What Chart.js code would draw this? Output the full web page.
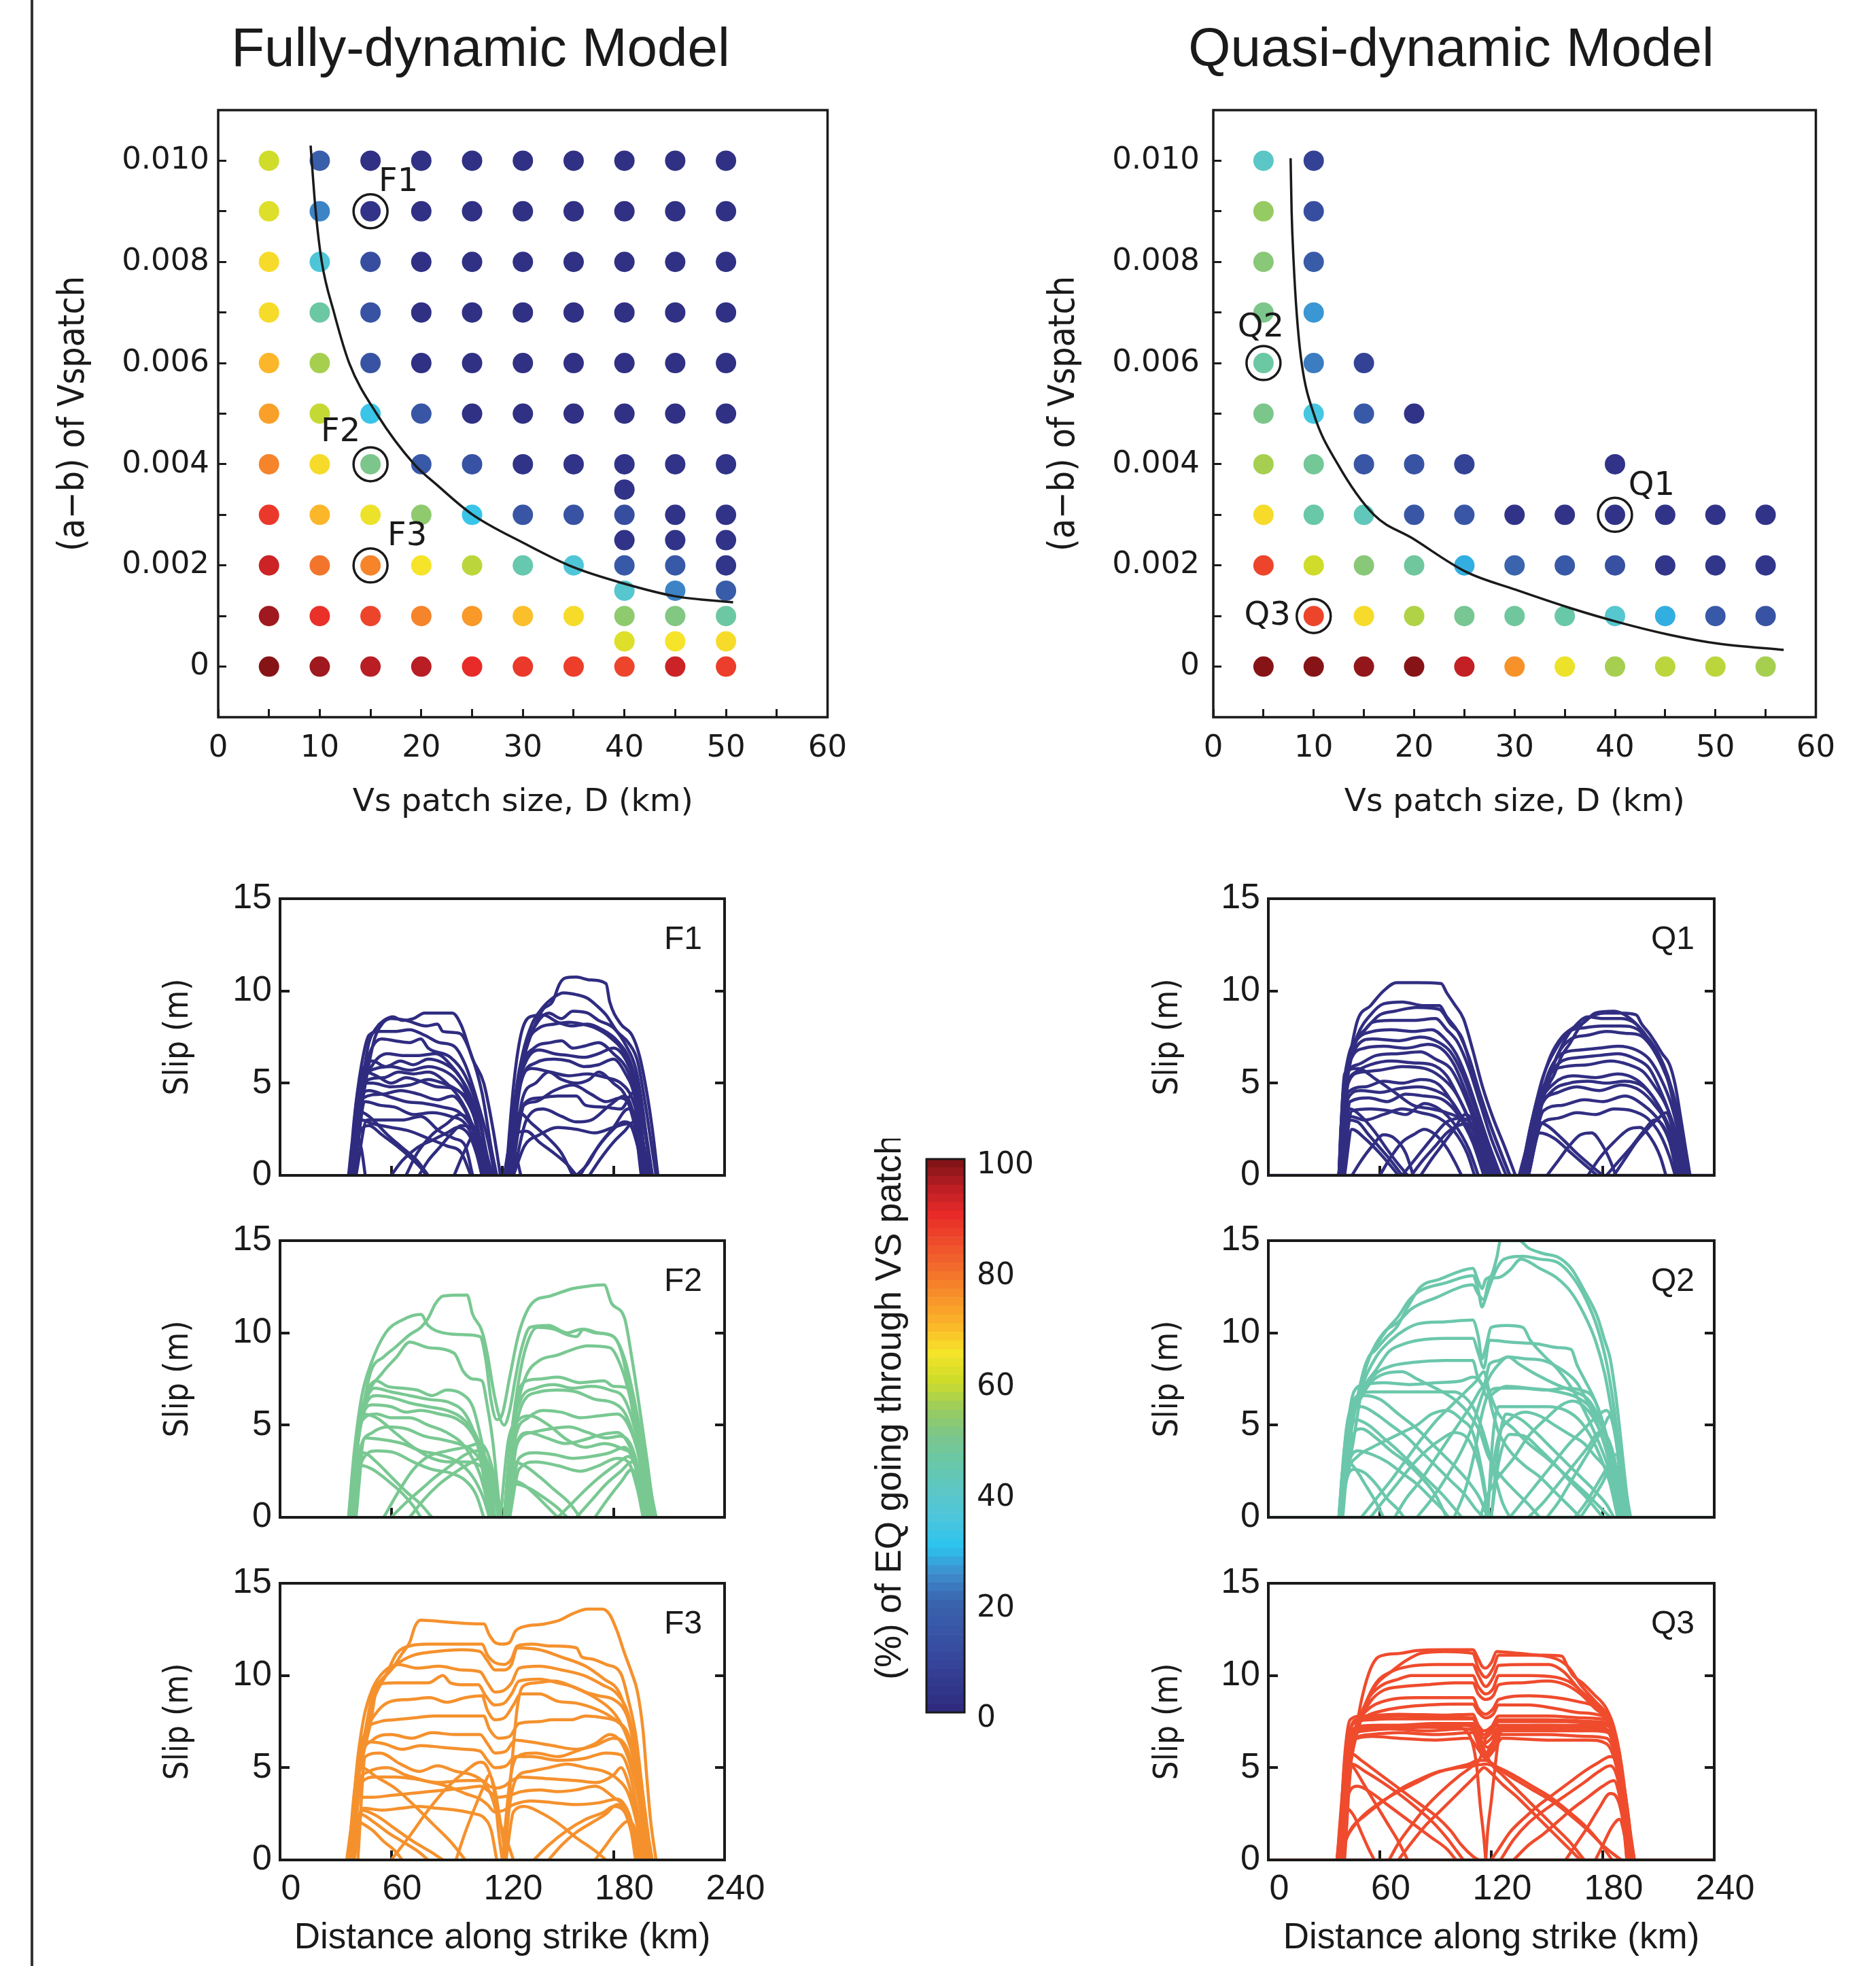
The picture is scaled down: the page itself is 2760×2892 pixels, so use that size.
<!DOCTYPE html>
<html>
<head>
<meta charset="utf-8">
<script src="https://cdn.jsdelivr.net/npm/chart.js@4.4.1/dist/chart.umd.min.js"></script>
<style>
  html, body { margin: 0; padding: 0; background: #fff; }
  body { width: 2760px; height: 2892px; position: relative; overflow: hidden; }
  #rule { position: absolute; left: 45px; top: 0; width: 4px; height: 2892px; background: #333; }
  .title { position: absolute; font-family: 'Liberation Sans', Arial, sans-serif; font-size: 80px; line-height: 1;
           color: #1a1a1a; white-space: nowrap; transform: translate(-50%, -50%); }
</style>
</head>
<body>
<div id="rule"></div>
<div class="title" style="left:707px; top:70px;">Fully-dynamic Model</div>
<div class="title" style="left:2135px; top:70px;">Quasi-dynamic Model</div>
<script>
// ---------- scatter panels: % of earthquakes going through the VS patch ----------
const fdPatchD = [5, 10, 15, 20, 25, 30, 35, 40, 45, 50];
const fdAB = [0, 0.001, 0.002, 0.003, 0.004, 0.005, 0.006, 0.007, 0.008, 0.009, 0.010];
const fdPct = [
  [99, 97, 95, 95, 90, 88, 87, 86, 93, 87],
  [97, 89, 86, 77, 74, 69, 66, 53, 51, 46],
  [93, 79, 77, 65, 58, 44, 36, 16, 16, 4],
  [88, 70, 64, 53, 32, 15, 14, 12, 3, 3],
  [77, 66, 50, 16, 14, 3, 3, 3, 3, 3],
  [73, 59, 32, 15, 2, 2, 2, 2, 2, 2],
  [70, 56, 14, 2, 2, 2, 2, 2, 2, 2],
  [66, 46, 14, 2, 2, 2, 2, 2, 2, 2],
  [66, 36, 12, 2, 2, 2, 2, 2, 2, 2],
  [62, 24, 3, 2, 2, 2, 2, 2, 2, 2],
  [60, 18, 2, 2, 2, 2, 2, 2, 2, 2]
];
// extra half-step runs
const fdExtraD = [40, 40, 40, 40, 45, 45, 45, 50, 50, 50];
const fdExtraAB = [0.0005, 0.0015, 0.0025, 0.0035, 0.0005, 0.0015, 0.0025, 0.0005, 0.0015, 0.0025];
const fdExtraPct = [62, 38, 3, 3, 65, 24, 3, 66, 17, 3];
const fdCurveD = [9.1, 9.6, 10.2, 11.4, 12.9, 15.6, 19.3, 21.6, 25.0, 30.1, 34.9, 39.8, 45.0, 50.7];
const fdCurveAB = [0.0103, 0.0090, 0.0080, 0.0070, 0.0060, 0.0050, 0.0040, 0.00358, 0.00301, 0.00244, 0.00197, 0.00165, 0.00139, 0.00127];
const fdPickName = ['F1', 'F2', 'F3'];
const fdPickD = [15, 15, 15];
const fdPickAB = [0.009, 0.004, 0.002];

const qdPatchD = [5, 10, 15, 20, 25, 30, 35, 40, 45, 50, 55];
const qdAB = [0, 0.001, 0.002, 0.003, 0.004, 0.005, 0.006, 0.007, 0.008, 0.009, 0.010];
const qdPct = [
  [99, 99, 98, 99, 94, 75, 64, 56, 58, 58, 56],
  [null, 86, 66, 57, 49, 47, 45, 38, 28, 16, 14],
  [86, 60, 52, 47, 28, 20, 16, 13, 4, 4, 4],
  [66, 45, 42, 15, 15, 3, 3, 3, 3, 3, 3],
  [56, 48, 15, 14, 8, null, null, 3, null, null, null],
  [50, 34, 16, 3, null, null, null, null, null, null, null],
  [46, 23, 8, null, null, null, null, null, null, null, null],
  [50, 26, null, null, null, null, null, null, null, null, null],
  [52, 17, null, null, null, null, null, null, null, null, null],
  [54, 12, null, null, null, null, null, null, null, null, null],
  [40, 8, null, null, null, null, null, null, null, null, null]
];
const qdCurveD = [7.7, 7.8, 8.0, 8.3, 8.8, 10.0, 12.4, 16.0, 19.8, 25.2, 30.1, 35.5, 40.3, 45.4, 50.4, 56.8];
const qdCurveAB = [0.01005, 0.0090, 0.0080, 0.0070, 0.0060, 0.0050, 0.0040, 0.0030, 0.00254, 0.00187, 0.00152, 0.00116, 0.00088, 0.00063, 0.00045, 0.00033];
const qdPickName = ['Q1', 'Q2', 'Q3'];
const qdPickD = [40, 5, 10];
const qdPickAB = [0.003, 0.006, 0.001];

const patchTicks = [0, 5, 10, 15, 20, 25, 30, 35, 40, 45, 50, 55, 60];
const patchTickText = ['0', '', '10', '', '20', '', '30', '', '40', '', '50', '', '60'];
const abTicks = [0, 0.001, 0.002, 0.003, 0.004, 0.005, 0.006, 0.007, 0.008, 0.009, 0.010];
const abTickText = ['0', '', '0.002', '', '0.004', '', '0.006', '', '0.008', '', '0.010'];

// ---------- slip profiles along strike (x km, slip m pairs) ----------
const strikeTicks = [0, 60, 120, 180, 240];
const strikeTickText = ['0', '60', '120', '180', '240'];
const slipTicks = [0, 5, 10, 15];
const slipTickText = ['0', '5', '10', '15'];
const slipRightTicks = [5, 10];

const f1Slip = [
  [37.6,0, 40,2, 42,3.5, 45,5.5, 48,7.2, 52,8.0, 56,8.4, 61,8.6, 66,8.4, 72,8.5, 78,8.8, 93,8.8, 98,8.1, 104,6.3, 110,5.0, 115,2.5, 119,0],
  [39,0, 43,3, 47,5.5, 51,7.4, 55,8.2, 60,8.5, 68,8.4, 79,8.1, 85,8.2, 88,7.8, 97,7.7, 103,6.6, 109,4.5, 114,1.5, 117,0],
  [38,0, 43,4, 48,6.5, 55,7.4, 62,7.3, 70,7.2, 76,7.4, 80,6.9, 92,6.4, 100,5.4, 107,3.5, 112,1, 115,0],
  [38,0, 44,4.5, 50,6.0, 58,6.6, 66,6.5, 75,6.5, 84,6.6, 92,6.0, 100,4.8, 106,3, 111,0],
  [38.5,0, 45,5, 52,5.8, 60,5.9, 70,5.7, 80,5.9, 88,5.7, 95,5.2, 101,4.3, 108,2, 112,0],
  [39,0, 44,4.5, 48,5.2, 56,5.3, 64,5.6, 72,5.5, 80,5.6, 90,5.0, 98,4.0, 104,2.6, 109,0],
  [38,0, 44,5, 50,5.0, 60,4.8, 70,4.9, 80,5.2, 88,5.0, 96,4.6, 103,3.8, 108,1.8, 112,0],
  [39,0, 45,4.2, 55,4.4, 65,4.6, 75,4.4, 85,4.1, 93,4.3, 100,3.5, 106,2, 110,0],
  [40,0, 46,4.0, 54,3.8, 62,3.7, 72,3.3, 82,3.4, 92,3.2, 100,2.8, 106,1.6, 110,0],
  [41,0, 47,3.0, 56,3.0, 66,3.0, 76,3.2, 86,2.4, 94,2.0, 100,1.6, 104,0],
  [40,0, 43,2.3, 48,2.7, 55,2.2, 63,1.6, 70,1.0, 76,0.4, 79,0],
  [39,0, 42,3.5, 48,3.2, 58,2.2, 66,1.5, 74,0.8, 80,0],
  [75,0, 80,0.8, 86,1.5, 92,2.2, 98,2.7, 104,2.5, 108,1.4, 111,0],
  [68,0, 74,1.2, 82,2.2, 90,2.8, 97,3.3, 103,2.9, 109,1.5, 113,0],
  [37,0, 39,1.8, 41,2.2, 44,1.4, 46,0],
  [94,0, 100,1.4, 105,2.2, 110,1.6, 114,0],
  [38,0, 41,3.8, 45,5.8, 50,6.2, 57,5.9, 65,6.2, 72,6.0, 80,6.3, 88,6.1, 95,5.6, 102,4.5, 108,2.8, 113,0],
  [38,0, 42,4.2, 46,5.6, 52,5.4, 60,5.0, 68,5.3, 76,5.1, 85,4.8, 94,4.7, 101,4.0, 107,2.4, 111,0],
  [39,0, 43,4.0, 48,4.6, 58,4.3, 68,4.0, 78,3.9, 88,3.7, 97,3.4, 104,2.5, 109,1.0, 111,0],
  [40,0, 44,3.0, 50,2.8, 60,2.6, 70,2.4, 80,2.0, 90,1.6, 98,1.2, 103,0],
  [37.5,0, 40,3.0, 44,6.0, 48,7.6, 54,7.8, 62,7.8, 70,7.9, 78,7.6, 86,7.2, 94,7.0, 100,6.0, 106,4.2, 112,2.0, 116,0],
  [60,0, 66,0.8, 74,1.5, 82,1.9, 90,2.3, 96,2.6, 102,2.2, 106,1.2, 109,0],
  [122,0, 125,2.5, 128,4.5, 132,6.5, 137,8.0, 142,9.0, 147,9.4, 151,10.4, 154,10.7, 160,10.75, 167,10.6, 176,10.4, 178,9.4, 184,8.2, 190,7.6, 194,6.5, 198,4.5, 201,2.5, 204,0],
  [122,0, 126,3.5, 131,6.6, 136,8.2, 141,9.0, 147,9.6, 153,9.9, 160,9.8, 166,9.6, 171,9.2, 176,8.7, 182,7.8, 188,7.2, 193,6.2, 197,4.0, 200,2, 203,0],
  [123,0, 128,4.5, 133,7.0, 139,8.3, 145,8.8, 152,8.5, 158,8.9, 166,8.8, 172,8.4, 180,8.0, 187,7.0, 192,5.8, 196,3.5, 200,0],
  [123,0, 128,5, 134,7.3, 140,8.0, 148,8.2, 156,8.3, 163,8.2, 170,8.0, 178,7.5, 186,6.6, 192,5.0, 197,2.5, 200,0],
  [124,0, 130,5.5, 137,6.9, 146,7.2, 152,7.3, 158,6.9, 164,7.0, 172,7.2, 180,6.6, 188,5.6, 194,3.5, 198,0],
  [124,0, 130,5.0, 138,6.1, 148,6.3, 156,6.2, 164,5.9, 172,6.0, 180,6.3, 186,5.6, 192,4.0, 197,0],
  [125,0, 131,4.2, 138,5.0, 145,5.6, 152,5.2, 160,5.0, 167,5.2, 172,5.6, 180,5.0, 187,4.2, 193,2.0, 196,0],
  [125,0, 132,3.9, 140,4.2, 150,4.3, 160,4.3, 165,3.8, 175,3.7, 184,3.6, 191,4.5, 195,2.5, 198,0],
  [126,0, 133,3.0, 142,3.6, 152,3.2, 160,2.9, 168,3.0, 178,3.8, 186,4.3, 191,3.2, 195,0],
  [123,0, 128,2.3, 133,2.4, 140,1.8, 148,1.2, 155,0.6, 160,0],
  [167,0, 173,0.9, 180,1.8, 186,2.4, 191,2.9, 194,2.4, 198,0],
  [124,0, 129,3.4, 136,2.8, 145,2.0, 152,1.2, 158,0],
  [160,0, 166,0.6, 172,1.6, 180,2.6, 188,3.6, 193,3.0, 197,0],
  [121,0, 124,1.5, 127,1.2, 130,0],
  [162,0, 170,1.3, 178,2.3, 186,2.9, 192,2.2, 196,0],
  [123,0, 127,4.0, 132,6.0, 140,6.8, 148,6.6, 156,6.5, 164,6.4, 172,6.6, 180,6.9, 187,6.2, 193,4.5, 198,1.8, 201,0],
  [124,0, 129,4.6, 136,5.8, 146,5.6, 156,5.4, 166,5.5, 176,5.3, 184,5.0, 190,4.2, 195,2.4, 199,0],
  [125,0, 130,3.6, 138,4.0, 148,4.6, 158,4.9, 168,4.4, 176,4.0, 184,4.2, 190,3.6, 195,1.8, 198,0],
  [122,0, 126,4.8, 130,7.6, 135,8.6, 142,8.7, 150,8.3, 158,8.1, 166,8.2, 174,7.9, 182,7.3, 189,6.2, 194,4.3, 198,2.0, 201,0],
  [126,0, 132,1.6, 140,2.2, 150,2.6, 160,2.5, 170,2.3, 180,2.6, 188,2.8, 193,1.6, 196,0]
];

const f2Slip = [
  [37,0, 40,3.5, 44,6.5, 49,8.3, 57,10.0, 66,10.7, 76,11.0, 80,10.4, 88,10.0, 100,9.9, 108,9.8, 111,8.6, 114,6.3, 117,5.3, 120,5.6, 124,7.6, 129,10.0, 136,11.6, 146,12.0, 158,12.4, 164,12.5, 175,12.6, 179,11.6, 186,10.8, 190,8.6, 194,6.0, 198,3.2, 201,1.0, 203,0],
  [37,0, 40,3, 44,5.5, 49,7.9, 56,8.7, 62,9.2, 70,9.9, 76,10.3, 80,10.8, 84,11.6, 88,12.0, 101,12.05, 104,11.0, 109,10.1, 112,8.8, 115,7.0, 118,5.6, 121,5.0, 124,5.8, 127,7.5, 130,9.0, 135,10.3, 145,10.4, 155,10.0, 163,10.2, 170,10.0, 180,9.8, 186,8.6, 191,6.5, 196,3.8, 200,1.5, 203,0],
  [38,0, 42,4, 47,6.5, 55,7.8, 63,8.7, 70,9.5, 80,9.2, 94,8.9, 99,7.9, 104,7.5, 109,7.4, 112,6.0, 115,4.0, 117,2.0, 119,0],
  [121,0, 124,3, 128,6, 133,7.7, 140,8.5, 150,8.8, 158,9.1, 166,9.3, 178,9.2, 184,8.2, 189,6.5, 194,4.0, 199,1.2, 202,0],
  [38,0, 42,4.5, 47,6.8, 52,7.4, 58,7.1, 66,7.0, 74,6.9, 82,6.6, 90,6.9, 98,6.7, 104,6.0, 108,4.5, 112,2.5, 116,0],
  [38,0, 42,5.0, 46,6.3, 51,7.0, 60,6.8, 70,6.6, 80,6.4, 92,6.2, 100,5.6, 106,4.2, 110,2.2, 114,0],
  [39,0, 43,4.8, 50,6.1, 60,6.0, 68,5.7, 76,5.8, 86,5.6, 96,5.3, 104,4.5, 110,3.0, 114,1.2, 116,0],
  [38,0, 44,5.2, 52,5.6, 60,5.4, 70,5.4, 80,5.0, 90,4.6, 100,3.8, 108,2.3, 114,0],
  [40,0, 46,4.3, 56,4.2, 66,4.0, 76,3.6, 86,3.4, 96,3.0, 104,2.2, 110,1.0, 113,0],
  [39,0, 44,5.6, 52,5.4, 62,4.6, 72,3.8, 82,3.2, 92,3.0, 100,3.0, 108,2.8, 114,1.8, 118,0],
  [40,0, 44,2.8, 50,2.6, 58,2.0, 66,1.3, 72,0.6, 76,0],
  [41,0, 45,3.5, 52,3.0, 60,2.2, 68,1.4, 76,0.7, 82,0],
  [70,0, 78,1.0, 86,1.8, 94,2.4, 102,2.9, 108,3.2, 112,2.8, 115,1.6, 118,0],
  [56,0, 64,1.4, 72,2.6, 80,3.3, 90,3.6, 100,3.8, 108,4.0, 112,3.5, 116,2.0, 119,0],
  [121,0, 124,3.6, 128,6.5, 133,7.4, 140,7.5, 150,7.6, 162,7.3, 175,7.4, 180,7.1, 188,7.0, 193,5.2, 198,2.6, 202,0],
  [122,0, 126,4.0, 131,6.2, 140,6.8, 150,6.9, 160,6.8, 170,6.4, 180,6.2, 187,5.5, 193,3.6, 197,1.5, 200,0],
  [122,0, 127,4.3, 134,5.4, 142,5.8, 152,5.7, 162,5.4, 172,5.5, 182,5.6, 188,5.0, 194,3.2, 199,0],
  [123,0, 128,4.0, 136,4.6, 146,4.8, 156,4.9, 166,4.6, 176,4.3, 184,4.4, 190,3.8, 195,2.0, 199,0],
  [123,0, 129,3.2, 138,3.5, 148,3.4, 158,3.2, 168,3.3, 178,3.5, 186,3.8, 191,3.0, 196,1.2, 198,0],
  [122,0, 126,3.0, 132,2.8, 140,2.2, 148,1.5, 156,0.8, 162,0],
  [121,0, 125,2.0, 131,1.8, 138,1.2, 145,0.5, 150,0],
  [160,0, 168,0.9, 176,1.8, 184,2.5, 190,3.0, 195,2.0, 199,0],
  [170,0, 177,1.0, 184,1.9, 190,2.6, 194,1.7, 198,0],
  [119,0, 123,4.0, 128,5.2, 135,5.5, 145,5.0, 155,4.2, 165,3.8, 175,4.0, 185,3.7, 191,3.2, 196,1.0, 199,0],
  [121,0, 125,4.5, 129,7.5, 133,9.3, 139,10.3, 148,10.2, 155,9.9, 160,9.8, 164,10.2, 172,10.0, 180,9.8, 185,8.7, 190,6.0, 195,2.8, 199,0],
  [38,0, 42,4.0, 46,6.0, 52,6.6, 60,6.5, 70,6.2, 80,6.0, 90,5.8, 98,5.4, 105,4.6, 110,3.4, 114,2.0, 118,0],
  [39,0, 43,3.6, 50,4.6, 58,4.9, 68,4.8, 78,4.4, 88,4.2, 96,4.0, 104,3.6, 110,2.6, 115,0],
  [40,0, 44,3.0, 52,3.6, 62,3.5, 72,3.0, 82,2.6, 92,2.4, 100,2.0, 106,1.2, 110,0],
  [60,0, 68,0.8, 76,1.5, 84,2.2, 92,2.8, 100,3.4, 107,3.6, 112,3.0, 116,1.4, 118,0],
  [121,0, 125,4.4, 130,6.4, 138,7.0, 148,7.2, 158,7.0, 168,7.1, 178,6.9, 186,6.4, 192,4.6, 197,2.0, 201,0],
  [122,0, 127,3.8, 134,4.6, 144,4.3, 154,4.0, 164,4.2, 174,4.5, 182,4.6, 188,4.0, 194,2.3, 198,0],
  [124,0, 129,2.6, 138,3.0, 150,2.8, 162,2.5, 172,2.8, 182,3.2, 188,3.0, 193,1.5, 196,0],
  [150,0, 158,0.8, 166,1.6, 174,2.3, 182,2.9, 188,3.3, 193,2.4, 197,0],
  [123,0, 127,1.8, 134,1.6, 142,1.1, 150,0.5, 155,0]
];

const f3Slip = [
  [36,0, 38,1.5, 40,3.0, 43,4.8, 46,6.2, 49,7.5, 52,9.3, 55,9.8, 60,10.3, 66,11.2, 70,11.8, 73,12.7, 76,13.0, 90,12.9, 106,12.8, 110,12.8, 113,12.2, 116,11.8, 120,11.7, 124,11.8, 127,12.4, 130,12.6, 143,12.8, 151,13.0, 158,13.35, 166,13.6, 174,13.6, 178,13.3, 182,12.4, 186,11.2, 190,10.1, 193,9.1, 196,7.0, 198,4.5, 200,2.2, 203,0],
  [37,0, 40,3, 44,5.8, 48,7.6, 52,9.2, 57,10.0, 63,11.2, 70,11.6, 80,11.7, 95,11.7, 109,11.7, 112,11.1, 116,10.7, 121,10.6, 125,10.9, 128,11.6, 136,11.7, 146,11.6, 160,11.5, 163,11.0, 168,10.9, 176,10.6, 184,10.1, 188,8.7, 192,6.8, 196,3.5, 199,1.2, 201,0],
  [37,0, 41,3.5, 46,6.5, 50,8.5, 56,9.8, 63,10.6, 72,11.1, 84,11.3, 98,11.4, 108,11.3, 112,10.8, 116,10.3, 121,10.3, 125,10.6, 128,11.5, 140,11.4, 152,11.0, 165,10.5, 175,9.8, 183,9.1, 188,7.6, 193,5.2, 197,2.6, 200,0],
  [37,0, 41,4, 46,7.0, 52,9.5, 62,9.6, 72,9.6, 80,9.6, 88,10.0, 92,9.6, 100,9.5, 107,9.5, 111,8.9, 116,8.4, 121,8.5, 125,9.0, 129,9.7, 140,9.8, 150,9.6, 158,9.4, 165,9.1, 172,8.9, 180,8.7, 186,8.1, 190,7.0, 194,5.0, 197,2.5, 200,0],
  [38,0, 42,4.5, 47,7.0, 53,8.1, 60,8.6, 70,8.7, 81,8.8, 90,8.55, 100,8.8, 109,8.9, 112,8.1, 116,7.6, 121,7.7, 126,8.4, 130,9.0, 140,9.0, 150,8.6, 160,8.5, 170,8.2, 178,7.8, 185,7.2, 190,6.0, 195,3.6, 199,0],
  [38,0, 42,5, 46,6.9, 54,7.5, 62,7.6, 72,7.7, 83,7.8, 95,7.8, 110,7.8, 113,7.1, 118,6.6, 124,6.7, 129,7.4, 140,7.5, 147,7.6, 157,7.6, 165,7.8, 175,7.7, 182,7.5, 188,6.8, 193,4.8, 197,2.0, 200,0],
  [38,0, 43,5.2, 50,6.5, 60,6.8, 71,6.6, 82,6.9, 94,6.8, 108,6.8, 112,6.3, 116,5.8, 122,5.9, 127,6.5, 135,6.4, 147,6.2, 160,6.0, 170,6.2, 180,6.6, 187,6.1, 192,4.4, 196,2.0, 199,0],
  [39,0, 44,4.2, 52,4.5, 62,4.5, 72,4.4, 85,4.2, 100,4.3, 109,4.3, 113,4.0, 117,3.9, 121,4.0, 125,4.3, 130,4.5, 145,4.4, 160,4.3, 171,4.2, 180,4.6, 184,5.0, 188,4.2, 192,2.5, 196,0],
  [39,0, 43,3.4, 50,3.4, 60,3.5, 70,3.6, 80,3.7, 90,3.8, 100,3.9, 108,4.0, 113,3.7, 118,3.4, 124,3.5, 130,3.7, 140,3.8, 150,3.7, 160,3.8, 170,4.0, 180,3.4, 186,2.8, 191,1.2, 194,0],
  [40,0, 45,2.8, 55,2.7, 65,2.8, 75,2.9, 85,2.8, 95,2.7, 105,2.5, 110,2.3, 114,1.6, 117,0],
  [38,0, 43,2.5, 50,2.1, 58,1.5, 66,1.0, 74,0.5, 80,0],
  [39,0, 44,2.7, 52,2.4, 62,1.7, 72,1.0, 82,0.4, 88,0],
  [38,0, 44,5.0, 52,4.5, 62,3.9, 72,3.0, 82,2.0, 92,1.0, 100,0],
  [95,0, 100,1.5, 105,2.8, 110,4.0, 113,4.6, 116,3.8, 119,2.0, 122,0],
  [137,0, 145,0.8, 155,1.6, 165,2.2, 175,2.6, 180,2.9, 186,2.6, 190,1.4, 193,0],
  [145,0, 152,0.8, 160,1.5, 168,2.0, 176,2.5, 182,3.0, 188,2.4, 192,0],
  [122,0, 126,2.6, 132,2.9, 140,2.6, 150,2.0, 160,1.2, 170,0.5, 176,0],
  [42,0, 46,5.6, 54,5.8, 65,5.2, 75,4.8, 85,5.1, 95,4.8, 104,4.6, 110,4.2, 114,3.5, 118,2.2, 122,1.2, 126,0],
  [120,0, 124,4.2, 128,5.6, 138,5.8, 150,5.6, 160,5.9, 170,6.3, 178,6.8, 184,6.4, 189,5.2, 194,3.0, 198,0],
  [60,0, 70,1.3, 80,2.7, 90,3.9, 100,4.8, 108,5.3, 112,5.0, 116,3.5, 118,1.5, 120,0],
  [121,0, 125,5, 128,8.2, 131,9.4, 138,9.6, 148,9.7, 160,9.3, 170,8.8, 180,8.0, 186,7.0, 191,5.4, 195,3.0, 199,0],
  [37,0, 40,3.6, 44,6.0, 48,6.4, 56,6.3, 66,6.0, 76,6.2, 88,6.1, 100,6.0, 108,5.9, 112,5.4, 116,5.0, 122,5.1, 127,5.6, 136,5.6, 150,5.4, 164,5.5, 176,5.8, 184,5.7, 189,4.6, 193,2.6, 197,0],
  [38,0, 42,4.0, 48,4.8, 58,5.0, 68,4.6, 78,4.3, 90,4.0, 100,3.6, 108,3.3, 112,3.0, 116,2.6, 121,2.7, 126,3.0, 136,3.2, 148,3.1, 160,3.0, 172,3.1, 182,3.3, 188,2.6, 192,1.2, 195,0],
  [37,0, 40,2.2, 44,2.0, 50,1.6, 56,1.0, 62,0.5, 66,0],
  [170,0, 176,0.8, 182,1.6, 188,2.1, 192,1.6, 195,0],
  [38,0, 41,4.6, 45,7.6, 50,9.3, 56,10.2, 64,10.6, 74,10.4, 86,10.5, 98,10.3, 108,10.2, 112,9.6, 116,9.1, 121,9.2, 125,9.6, 129,10.4, 140,10.5, 152,10.3, 164,10.0, 174,9.5, 182,9.0, 188,7.9, 192,6.0, 196,3.2, 199,0],
  [121,0, 124,3.0, 128,4.5, 135,4.8, 145,5.0, 155,5.2, 165,5.0, 175,4.8, 182,4.4, 188,3.6, 193,1.8, 196,0]
];

const q1Slip = [
  [0,0, 240,0],
  [38,0, 39,2.5, 41,4.5, 44,6.5, 48,8.4, 55,9.2, 62,10.0, 69,10.45, 80,10.45, 93,10.4, 96,9.9, 100,9.3, 105,8.5, 110,6.8, 115,4.9, 121,3.1, 127,1.6, 133,0],
  [38,0, 40,3, 43,5.5, 47,7.2, 53,8.0, 60,8.7, 68,8.9, 80,9.1, 92,9.0, 98,8.2, 104,7.5, 110,5.6, 116,3.7, 123,1.8, 130,0],
  [38,0, 41,4, 45,6.8, 50,7.6, 56,8.3, 66,8.4, 78,8.4, 90,8.5, 96,7.9, 102,7.2, 108,5.8, 114,3.9, 120,2.0, 128,0],
  [38,0, 42,5, 47,6.9, 56,7.4, 70,7.3, 82,7.5, 92,7.2, 98,6.7, 104,5.6, 110,4.0, 117,2.0, 124,0],
  [39,0, 42,5.3, 48,6.0, 58,6.5, 70,6.6, 82,6.7, 90,6.3, 98,5.8, 104,4.7, 110,3.2, 116,1.5, 122,0],
  [39,0, 43,5.0, 50,5.6, 60,5.7, 72,5.9, 84,5.8, 92,5.4, 100,4.6, 106,3.5, 112,2.0, 119,0],
  [39,0, 43,4.5, 52,4.8, 62,5.1, 72,5.0, 82,5.2, 92,4.9, 100,3.8, 108,2.5, 116,0.8, 120,0],
  [40,0, 44,4.0, 54,4.2, 64,4.0, 74,4.4, 84,4.3, 94,4.1, 102,3.3, 110,1.8, 116,0],
  [40,0, 45,3.5, 55,3.6, 65,3.5, 74,3.3, 84,3.9, 92,3.6, 100,2.8, 108,1.4, 113,0],
  [39,0, 42,3.0, 48,2.9, 54,2.2, 60,1.5, 66,0.8, 72,0],
  [40,0, 44,3.6, 50,3.2, 57,2.4, 64,1.4, 70,0.6, 75,0],
  [77,0, 83,0.8, 90,1.6, 96,2.3, 102,2.7, 107,2.8, 112,2.1, 117,1.0, 122,0],
  [82,0, 88,0.9, 94,1.7, 100,2.5, 106,3.3, 110,3.0, 116,1.5, 121,0],
  [41,0, 45,2.5, 52,2.0, 60,1.2, 66,0.5, 70,0],
  [72,0, 80,1.0, 88,2.0, 96,2.9, 104,3.1, 111,2.6, 118,1.0, 124,0],
  [38,0, 41,5.5, 48,5.8, 58,5.2, 68,4.5, 78,3.8, 88,3.6, 96,3.4, 104,3.0, 110,2.1, 118,0],
  [38,0, 40,3.5, 44,6.2, 48,7.6, 55,8.7, 62,9.3, 72,9.4, 84,9.2, 92,9.2, 96,8.6, 102,7.8, 108,6.4, 114,4.4, 120,2.6, 126,1.0, 130,0],
  [38,0, 40,4.2, 43,6.4, 48,7.4, 56,7.8, 66,7.9, 78,7.8, 88,7.9, 95,7.4, 101,6.6, 107,5.2, 113,3.4, 119,1.6, 125,0],
  [38,0, 41,4.8, 45,6.4, 52,6.9, 62,7.0, 74,6.9, 86,7.1, 94,6.8, 100,6.0, 106,4.6, 112,3.0, 118,1.4, 123,0],
  [39,0, 42,4.6, 47,5.6, 55,6.0, 66,6.2, 78,6.1, 88,6.0, 96,5.4, 102,4.3, 108,3.0, 114,1.6, 120,0],
  [39,0, 43,4.2, 50,4.6, 60,4.5, 70,4.7, 80,4.8, 90,4.6, 98,4.1, 105,3.0, 112,1.6, 117,0],
  [40,0, 44,3.2, 52,3.0, 62,3.3, 72,3.6, 82,3.4, 92,3.1, 100,2.4, 107,1.2, 111,0],
  [45,0, 50,0.8, 56,1.6, 62,2.2, 68,2.0, 74,1.2, 78,0],
  [60,0, 66,1.0, 72,1.8, 78,2.2, 84,2.5, 90,2.2, 96,1.5, 100,0.8, 104,0],
  [135,0, 140,1.8, 144,2.6, 149,4.5, 154,5.5, 158,6.5, 162,7.1, 168,8.1, 172,8.5, 181,8.8, 190,8.8, 198,8.7, 201,8.2, 205,7.7, 208,7.25, 212,6.6, 216,6.0, 219,4.9, 222,3.1, 225,1.2, 227,0],
  [136,0, 142,2.4, 148,4.3, 154,6.1, 160,7.4, 166,8.2, 172,8.6, 180,8.5, 190,8.5, 198,8.2, 204,7.5, 210,6.6, 215,5.4, 220,3.6, 224,1.5, 226,0],
  [137,0, 143,2.8, 150,5.0, 156,6.6, 163,7.4, 172,7.6, 182,7.8, 192,7.7, 200,7.6, 206,7.0, 212,5.9, 218,4.3, 222,2.4, 225,0],
  [137,0, 144,3.2, 151,5.6, 158,6.6, 168,6.8, 178,6.9, 188,7.0, 198,6.8, 205,6.3, 211,5.3, 217,3.8, 222,1.6, 224,0],
  [138,0, 145,3.6, 152,5.5, 160,5.9, 172,6.0, 184,6.2, 194,6.0, 202,5.6, 208,4.8, 214,3.8, 220,2.0, 223,0],
  [138,0, 146,3.8, 154,5.0, 164,5.4, 176,5.3, 188,5.5, 198,5.2, 206,4.4, 212,3.4, 218,2.0, 222,0],
  [139,0, 147,3.8, 156,4.5, 166,4.8, 178,4.6, 190,4.9, 200,4.6, 208,3.8, 215,2.6, 221,0],
  [140,0, 148,3.5, 158,3.8, 170,4.1, 180,4.0, 192,4.3, 202,3.8, 210,3.0, 216,1.8, 220,0],
  [139,0, 144,2.9, 150,2.7, 158,2.0, 166,1.2, 174,0.5, 180,0],
  [140,0, 146,2.3, 154,2.0, 162,1.3, 170,0.6, 177,0],
  [186,0, 192,0.9, 198,1.8, 204,2.5, 210,3.1, 214,3.4, 218,2.4, 221,1.0, 223,0],
  [182,0, 188,0.7, 195,1.5, 202,2.4, 208,3.0, 213,2.6, 218,1.2, 221,0],
  [136,0, 141,2.6, 147,5.0, 152,6.5, 158,7.5, 164,8.0, 170,8.3, 176,8.8, 186,8.9, 196,8.4, 202,7.7, 208,6.7, 214,5.5, 219,3.5, 223,1.2, 225,0],
  [136,0, 142,3.0, 148,5.4, 155,6.9, 162,7.8, 170,8.0, 180,8.1, 190,8.1, 199,7.9, 205,7.2, 211,6.2, 217,4.6, 221,2.6, 224,0.8, 225,0],
  [137,0, 143,3.4, 150,5.2, 158,6.2, 168,6.4, 178,6.5, 188,6.6, 198,6.3, 205,5.8, 211,4.6, 217,3.0, 221,1.2, 223,0],
  [138,0, 145,3.3, 153,4.6, 162,5.0, 172,5.1, 182,5.0, 192,5.1, 202,4.8, 208,4.1, 214,3.0, 219,1.4, 222,0],
  [140,0, 147,2.8, 156,3.1, 166,3.4, 176,3.3, 186,3.6, 196,3.5, 204,3.1, 211,2.2, 216,1.0, 219,0],
  [150,0, 156,0.8, 162,1.6, 168,2.2, 174,2.3, 180,1.6, 184,0.8, 187,0],
  [172,0, 178,0.9, 186,1.8, 194,2.5, 200,2.6, 206,2.0, 211,1.0, 214,0]
];

const q2Slip = [
  [0,0, 240,0],
  [38,0, 41,2.0, 45,3.7, 49,6.2, 53,8.4, 58,9.1, 64,9.8, 69,10.3, 75,11.4, 82,12.5, 92,12.9, 105,13.4, 110,13.5, 113,12.8, 115,12.4, 117,12.9, 120,13.1, 123,14.1, 125,15.0, 135,15.0, 140,14.6, 148,14.3, 156,14.1, 163,13.5, 170,12.3, 177,10.9, 181,9.6, 184,8.6, 187,6.6, 189,4.9, 191,3.0, 193,1.2, 195,0],
  [38,0, 42,3.0, 47,6.0, 52,8.2, 58,9.3, 64,10.2, 70,10.9, 76,11.8, 82,12.3, 95,12.7, 110,13.1, 113,12.3, 115,11.4, 117,11.9, 119,12.5, 123,13.5, 127,14.0, 137,14.15, 146,14.0, 156,13.8, 164,13.0, 171,11.8, 177,10.3, 182,8.4, 186,6.0, 189,3.6, 192,1.2, 194,0],
  [38,0, 42,3.5, 48,6.5, 55,8.8, 62,10.0, 70,10.6, 77,11.3, 90,11.9, 110,12.6, 113,12.1, 116,11.8, 119,12.9, 124,13.0, 130,13.4, 136,14.0, 146,13.5, 155,13.0, 163,12.2, 170,11.0, 176,9.6, 181,7.8, 185,5.6, 189,3.0, 192,0.8, 193,0],
  [38,0, 43,4.2, 50,7.0, 58,8.7, 66,9.6, 74,10.2, 81,10.5, 95,10.6, 110,10.7, 113,9.8, 115,8.6, 117,9.2, 120,10.3, 128,10.4, 137,10.3, 141,9.6, 148,8.8, 156,8.0, 164,6.9, 170,5.8, 176,4.5, 182,3.0, 187,1.4, 190,0],
  [38,0, 43,4.5, 50,6.8, 58,8.0, 65,9.0, 73,9.4, 81,9.6, 95,9.7, 110,9.7, 113,8.9, 116,8.1, 119,9.6, 130,9.5, 145,9.4, 156,9.2, 163,9.1, 166,8.3, 170,7.5, 176,6.3, 181,4.8, 186,3.0, 190,1.2, 192,0],
  [39,0, 44,5.0, 51,6.8, 58,7.8, 66,8.2, 78,8.4, 95,8.5, 110,8.5, 113,7.5, 116,7.2, 119,8.3, 124,8.5, 129,8.7, 138,8.6, 148,8.5, 158,8.0, 166,7.3, 172,6.2, 178,4.8, 183,3.2, 187,1.2, 189,0],
  [39,0, 44,5.0, 50,6.5, 56,7.4, 63,7.8, 72,7.9, 80,7.5, 90,7.0, 100,6.4, 108,5.6, 114,4.6, 118,3.4, 124,2.4, 132,1.5, 140,0.7, 146,0],
  [80,0, 88,1.0, 96,2.2, 104,3.6, 110,5.0, 115,6.6, 119,7.6, 124,8.3, 129,8.7, 135,8.3, 145,7.7, 155,7.2, 165,6.8, 172,6.4, 178,5.4, 184,3.8, 188,2.0, 190,0],
  [39,0, 43,5.0, 48,6.6, 56,6.8, 70,6.8, 85,6.8, 100,6.8, 106,6.5, 110,6.0, 114,5.1, 118,3.8, 122,2.2, 126,0.8, 130,0],
  [100,0, 106,1.5, 111,3.5, 115,5.6, 119,6.8, 124,7.0, 135,7.0, 150,6.9, 160,7.0, 168,6.9, 174,6.6, 178,5.8, 182,4.4, 186,2.6, 189,1.0, 190,0],
  [118,0, 121,4.5, 124,6.0, 135,6.0, 150,6.0, 160,5.8, 168,5.2, 174,4.3, 179,3.2, 184,1.8, 188,0],
  [39,0, 42,3.4, 47,5.3, 54,5.0, 62,4.3, 70,3.6, 78,2.8, 86,2.0, 94,1.2, 100,0.5, 104,0],
  [40,0, 44,4.0, 50,4.8, 58,4.3, 66,3.6, 74,3.0, 82,2.2, 90,1.2, 96,0],
  [68,0, 74,1.0, 82,2.0, 90,3.2, 98,4.4, 104,5.3, 110,6.2, 114,6.9, 117,7.2, 120,6.0, 124,4.6, 130,3.6, 138,2.8, 146,2.2, 154,1.4, 162,0.6, 168,0],
  [120,0, 124,3.0, 130,4.5, 138,4.4, 146,3.7, 154,2.9, 162,2.0, 170,1.2, 176,0.5, 180,0],
  [150,0, 156,0.8, 162,1.8, 168,2.8, 174,3.8, 180,4.8, 184,5.5, 188,4.0, 190,2.0, 192,0],
  [140,0, 148,0.8, 156,1.8, 164,2.8, 172,3.8, 178,4.6, 184,4.0, 188,2.2, 190,0],
  [55,0, 62,0.9, 70,1.9, 78,2.9, 86,3.7, 94,4.3, 100,4.6, 106,4.4, 110,3.8, 114,2.6, 117,1.0, 119,0],
  [39,0, 43,2.5, 48,3.3, 56,3.8, 64,4.2, 72,4.6, 80,5.0, 88,5.6, 96,5.8, 104,5.3, 110,4.6, 114,3.0, 117,1.2, 118,0],
  [117,0, 120,2.2, 124,4.4, 130,5.3, 138,5.7, 146,5.5, 154,5.0, 162,4.5, 170,4.0, 176,3.3, 182,2.6, 186,1.6, 189,0],
  [38,0, 40,2.5, 43,3.0, 47,2.6, 52,1.8, 58,0.8, 62,0],
  [168,0, 174,0.9, 180,1.9, 185,2.8, 189,2.5, 191,1.2, 192,0],
  [38,0, 42,4.8, 46,6.2, 52,6.6, 60,6.4, 70,5.6, 80,4.8, 90,3.8, 100,2.8, 108,1.9, 114,1.0, 118,0],
  [114,0, 118,1.2, 124,2.2, 132,3.2, 140,4.4, 150,5.4, 158,6.1, 164,6.3, 170,6.0, 176,5.2, 181,4.0, 185,2.4, 188,0.8, 189,0],
  [38,0, 41,3.8, 45,5.8, 50,6.0, 58,5.6, 66,5.0, 74,4.4, 82,3.6, 90,2.8, 98,2.0, 106,1.2, 112,0.4, 116,0],
  [39,0, 43,2.8, 48,3.6, 56,3.4, 64,3.0, 72,2.4, 80,1.8, 88,1.0, 94,0.4, 97,0],
  [50,0, 58,1.0, 66,2.0, 74,3.1, 82,4.2, 90,5.2, 98,6.0, 106,6.8, 112,7.4, 116,7.9, 119,6.8, 124,5.6, 132,4.8, 140,4.0, 150,3.2, 160,2.3, 170,1.4, 178,0.6, 184,0],
  [120,0, 124,4.0, 128,5.6, 136,5.3, 144,4.6, 152,3.8, 160,3.0, 168,2.2, 176,1.4, 182,0.7, 186,0],
  [130,0, 138,1.0, 146,2.0, 154,3.0, 162,4.0, 170,4.8, 176,5.4, 182,5.8, 186,4.8, 189,2.6, 191,0],
  [38,0, 42,4.4, 46,6.8, 52,7.2, 62,7.3, 76,7.2, 90,7.3, 104,7.4, 110,7.6, 114,7.4, 118,6.5, 122,6.8, 128,7.1, 140,7.0, 156,6.8, 168,6.4, 176,5.6, 182,4.2, 186,2.4, 189,0.8, 190,0],
  [39,0, 42,2.0, 46,2.6, 52,2.4, 58,1.8, 64,1.0, 70,0.4, 73,0],
  [165,0, 171,0.8, 177,1.8, 183,2.8, 187,3.4, 190,2.0, 192,0]
];

const q3Slip = [
  [0,0, 240,0],
  [37,0, 39,1.5, 41,2.9, 44,5.0, 47,6.9, 50,8.6, 54,10.1, 58,10.9, 62,11.1, 71,11.2, 80,11.35, 95,11.4, 110,11.4, 113,10.9, 115,10.5, 117,10.4, 120,10.7, 123,11.3, 135,11.2, 148,11.1, 158,11.05, 161,10.5, 164,10.0, 169,9.6, 175,9.0, 182,8.2, 186,7.2, 189,5.8, 191,4.2, 193,2.9, 195,1.2, 197,0],
  [37,0, 40,2.5, 44,5.2, 48,7.0, 53,8.5, 58,9.5, 66,10.2, 74,10.8, 82,11.2, 95,11.3, 110,11.2, 113,10.4, 117,9.9, 121,10.4, 124,11.1, 140,11.1, 155,10.9, 162,10.4, 168,9.5, 176,8.6, 182,7.9, 186,6.8, 190,4.8, 193,2.6, 196,0],
  [37,0, 41,3.5, 46,6.5, 52,8.4, 58,9.6, 66,10.2, 76,10.5, 90,10.6, 110,10.6, 113,10.0, 117,9.4, 121,9.9, 124,10.55, 140,10.6, 151,10.6, 159,10.2, 166,9.4, 174,8.5, 181,7.8, 186,6.6, 190,4.6, 193,2.2, 196,0],
  [38,0, 42,4.2, 47,7.0, 53,8.6, 60,9.4, 70,9.8, 77,10.0, 95,10.0, 110,10.0, 113,9.4, 117,9.0, 121,9.3, 124,10.0, 140,10.0, 155,9.9, 163,9.6, 170,9.0, 178,8.3, 184,7.6, 188,6.0, 192,3.6, 195,1.4, 197,0],
  [38,0, 42,4.5, 48,7.2, 55,8.6, 62,9.2, 72,9.4, 85,9.5, 100,9.6, 110,9.6, 113,9.0, 117,8.7, 121,8.9, 124,9.5, 135,9.6, 150,9.7, 160,9.5, 168,9.0, 176,8.2, 183,7.5, 188,6.0, 192,3.4, 195,0.8, 196,0],
  [38,0, 42,5.0, 47,7.2, 53,7.8, 62,8.1, 74,8.3, 86,8.4, 100,8.45, 110,8.45, 113,8.0, 117,7.7, 121,7.9, 124,8.4, 140,8.4, 155,8.2, 166,8.0, 176,7.9, 182,7.6, 186,6.6, 190,4.8, 194,2.2, 196,0],
  [38,0, 41,5.0, 44,7.0, 48,7.5, 55,7.6, 65,7.65, 80,7.65, 95,7.65, 110,7.65, 113,7.1, 116,6.6, 120,6.9, 124,7.5, 140,7.5, 160,7.5, 175,7.4, 182,7.3, 186,6.8, 189,5.5, 192,3.5, 195,1.2, 197,0],
  [38,0, 41,4.6, 44,6.6, 48,7.2, 56,7.3, 70,7.3, 90,7.4, 110,7.4, 113,6.8, 116,6.3, 120,6.6, 124,7.2, 145,7.3, 165,7.3, 180,7.2, 185,6.6, 189,5.0, 192,2.8, 195,0],
  [38,0, 42,5.0, 46,6.8, 52,7.0, 65,7.1, 85,7.0, 105,7.1, 111,7.0, 114,6.2, 117,5.8, 120,6.2, 124,7.0, 150,7.0, 175,7.0, 183,6.9, 187,6.0, 190,4.4, 193,2.0, 195,0],
  [38,0, 42,5.4, 47,6.6, 55,6.8, 70,6.9, 90,6.8, 110,6.9, 114,6.0, 117,5.6, 120,6.0, 125,6.8, 150,6.8, 170,6.7, 182,6.6, 187,5.6, 191,3.6, 194,1.0, 195,0],
  [37,0, 39,0.5, 42,1.2, 50,2.3, 60,3.1, 70,3.7, 80,4.2, 90,4.7, 100,5.0, 108,5.2, 113,5.4, 117,5.4, 121,5.2, 126,4.8, 134,4.3, 144,3.7, 154,3.1, 164,2.3, 172,1.6, 180,0.8, 186,0.3, 190,0],
  [38,0, 44,1.6, 52,2.4, 62,3.2, 72,3.9, 82,4.4, 92,4.8, 102,5.0, 110,5.1, 117,5.2, 124,5.0, 132,4.6, 142,4.0, 152,3.4, 162,2.6, 170,1.9, 178,1.0, 185,0],
  [40,0, 44,5.8, 50,5.4, 58,4.8, 66,4.2, 74,3.6, 82,3.0, 90,2.4, 98,1.6, 104,0.8, 110,0.2, 113,0],
  [41,0, 45,5.2, 52,4.8, 60,4.3, 70,3.6, 80,2.8, 88,2.1, 96,1.2, 102,0.4, 105,0],
  [120,0, 124,0.6, 130,1.5, 138,2.3, 146,3.0, 154,3.6, 162,4.2, 170,4.8, 178,5.3, 184,5.6, 188,5.2, 191,3.5, 193,1.5, 194,0],
  [125,0, 132,1.1, 140,2.0, 150,2.8, 160,3.5, 170,4.2, 178,4.8, 184,5.1, 188,4.4, 191,2.6, 193,0],
  [65,0, 70,0.9, 78,2.0, 86,3.0, 94,3.8, 102,4.5, 110,5.1, 114,5.5, 116,6.2, 118,7.0, 124,7.3, 150,7.3, 180,7.2, 185,6.5, 189,4.6, 192,2.2, 194,0],
  [38,0, 42,5.0, 46,7.0, 60,7.3, 90,7.3, 110,7.3, 113,6.8, 116,6.0, 120,5.2, 126,4.6, 134,3.8, 142,3.0, 152,2.0, 162,1.0, 170,0],
  [38,0, 42,5.2, 48,7.0, 70,7.2, 100,7.2, 108,6.8, 112,5.2, 114,3.0, 116,1.2, 117,0],
  [117,0, 118,1.5, 120,3.2, 122,5.0, 124,6.6, 128,7.2, 160,7.2, 182,7.0, 186,6.2, 190,4.2, 193,1.6, 194,0],
  [38,0, 40,3.5, 42,5.5, 46,5.0, 52,4.0, 58,3.0, 64,2.0, 70,1.0, 75,0],
  [160,0, 166,0.9, 172,1.8, 178,2.8, 184,3.6, 188,3.3, 191,2.0, 193,0],
  [37,0, 39,2.0, 42,2.8, 46,2.4, 50,1.5, 54,0.6, 57,0],
  [176,0, 180,0.8, 185,1.8, 189,2.2, 192,1.2, 194,0],
  [38,0, 41,5.5, 44,7.6, 50,7.8, 70,7.9, 95,7.85, 110,7.9, 113,7.3, 116,7.0, 120,7.2, 124,7.8, 150,7.8, 170,7.7, 182,7.6, 186,7.0, 190,5.2, 193,2.8, 196,0],
  [38,0, 42,4.8, 47,7.2, 53,8.1, 62,8.6, 80,8.8, 100,8.8, 110,8.8, 113,8.2, 117,7.9, 121,8.2, 124,8.7, 140,8.9, 155,8.8, 166,8.6, 176,8.3, 182,7.7, 187,6.4, 191,4.0, 194,1.6, 196,0],
  [37,0, 40,3.8, 43,6.6, 47,7.6, 55,7.7, 70,7.8, 90,7.75, 110,7.7, 113,7.2, 116,6.8, 120,7.0, 124,7.6, 150,7.6, 175,7.5, 183,7.4, 187,6.7, 190,5.0, 193,2.6, 196,0],
  [38,0, 41,5.2, 45,7.1, 52,7.2, 66,7.2, 86,7.2, 106,7.3, 112,7.0, 115,6.4, 118,6.1, 121,6.4, 125,7.1, 150,7.1, 176,7.1, 184,7.0, 188,5.8, 191,3.8, 194,1.2, 195,0],
  [38,0, 42,3.2, 48,4.0, 56,3.6, 64,3.0, 72,2.4, 80,1.8, 88,1.2, 96,0.6, 101,0],
  [132,0, 140,0.8, 148,1.4, 156,2.1, 164,2.8, 172,3.4, 180,4.0, 186,4.3, 190,3.0, 193,1.0, 194,0],
  [70,0, 76,0.8, 84,1.8, 92,2.6, 100,3.4, 106,4.0, 112,4.6, 116,5.0, 120,4.7, 126,4.1, 134,3.4, 142,2.6, 150,1.8, 158,1.0, 164,0.4, 168,0],
  [38,0, 41,4.0, 44,6.0, 48,6.6, 56,6.7, 70,6.6, 90,6.5, 108,6.6, 113,6.0, 117,5.5, 121,5.9, 126,6.6, 150,6.5, 172,6.5, 182,6.3, 187,5.2, 191,3.0, 194,0.8, 195,0]
];

// colour bar ticks
const cbTicks = [0, 10, 20, 30, 40, 50, 60, 70, 80, 90, 100];
const cbTickText = ['0', '', '20', '', '40', '', '60', '', '80', '', '100'];

// ---------- styling ----------
const SANS = "'Liberation Sans', Arial, Helvetica, sans-serif";
const WIDE = "'DejaVu Sans', Verdana, sans-serif";
const NARROW = "'Liberation Sans Narrow', 'DejaVu Sans Condensed', 'Liberation Sans', Arial, sans-serif";
const INK = '#1a1a1a';

const jetStops = [
  [0, [46, 42, 126]], [10, [54, 72, 156]], [20, [58, 100, 174]], [25, [62, 140, 204]],
  [30, [44, 196, 238]], [35, [76, 198, 220]], [40, [92, 198, 198]], [45, [104, 200, 168]],
  [50, [124, 198, 140]], [55, [156, 204, 90]], [60, [207, 220, 42]], [65, [245, 228, 42]],
  [70, [251, 182, 42]], [75, [247, 146, 42]], [80, [242, 110, 44]], [85, [238, 76, 44]],
  [90, [232, 42, 40]], [95, [184, 30, 36]], [100, [122, 18, 20]]
];
function jet(p) {
  for (let i = 1; i < jetStops.length; i++) {
    const [p1, c1] = jetStops[i];
    const [p0, c0] = jetStops[i - 1];
    if (p <= p1) {
      const t = (p - p0) / (p1 - p0);
      const c = c0.map((v, k) => Math.round(v + (c1[k] - v) * t));
      return `rgb(${c[0]},${c[1]},${c[2]})`;
    }
  }
  return 'rgb(122,18,20)';
}

Chart.defaults.animation = false;
Chart.defaults.events = [];
Chart.defaults.plugins.legend.display = false;
Chart.defaults.plugins.tooltip.enabled = false;
Chart.defaults.color = INK;

const framePlugin = {
  id: 'frame',
  afterDraw(chart, args, opts) {
    if (!opts || !opts.width) return;
    const { ctx, chartArea: a } = chart;
    ctx.save();
    ctx.strokeStyle = INK;
    ctx.lineWidth = opts.width;
    ctx.strokeRect(a.left, a.top, a.right - a.left, a.bottom - a.top);
    ctx.restore();
  }
};
Chart.register(framePlugin);

function makeCanvas(left, top, w, h) {
  const wrap = document.createElement('div');
  wrap.style.cssText = `position:absolute;left:${left}px;top:${top}px;width:${w}px;height:${h}px;`;
  const cv = document.createElement('canvas');
  cv.width = w;
  cv.height = h;
  cv.style.width = w + 'px';
  cv.style.height = h + 'px';
  wrap.appendChild(cv);
  document.body.appendChild(wrap);
  return cv;
}

const pairs = flat => {
  const out = [];
  for (let i = 0; i < flat.length; i += 2) out.push({ x: flat[i], y: flat[i + 1] });
  return out;
};
const fixedTicks = vals => s => { s.ticks = vals.map(v => ({ value: v })); };
// pin axis thickness and stop Chart.js from padding the plot for edge labels
const fitX = h => s => { s.height = h; s.paddingLeft = 0; s.paddingRight = 0; };
const fitY = w => s => { s.width = w; s.paddingTop = 0; s.paddingBottom = 0; };

function inwardGrid(len, width) {
  return { drawOnChartArea: false, drawTicks: true, tickLength: -len, color: INK, lineWidth: width };
}

// ---------- scatter panel ----------
function scatterPanel(frame, cols, rows, grid, extra, curve, picks, style) {
  const yW = 280, padT = 30, padR = 20, xH = 170;
  const cv = makeCanvas(frame.left - yW, frame.top - padT,
    yW + frame.right - frame.left + padR, padT + frame.bottom - frame.top + xH);

  const pts = [], colors = [];
  rows.forEach((ab, r) => cols.forEach((d, c) => {
    const p = grid[r][c];
    if (p === null) return;
    pts.push({ x: d, y: ab });
    colors.push(jet(p));
  }));
  extra.d.forEach((d, i) => {
    pts.push({ x: d, y: extra.ab[i] });
    colors.push(jet(extra.pct[i]));
  });

  const labelPlugin = {
    id: 'picklabels',
    afterDatasetsDraw(chart) {
      const { ctx, scales: { x, y } } = chart;
      ctx.save();
      ctx.font = `48px ${WIDE}`;
      ctx.fillStyle = INK;
      ctx.textAlign = 'center';
      ctx.textBaseline = 'middle';
      picks.name.forEach((n, i) => {
        const [dx, dy] = style.labelShift[i];
        ctx.fillText(n, x.getPixelForValue(picks.d[i]) + dx, y.getPixelForValue(picks.ab[i]) + dy);
      });
      ctx.restore();
    }
  };

  new Chart(cv, {
    type: 'scatter',
    data: {
      datasets: [
        { data: pts, pointBackgroundColor: colors, pointBorderWidth: 0, pointRadius: 15, order: 3 },
        { data: picks.d.map((d, i) => ({ x: d, y: picks.ab[i] })), pointRadius: 25,
          pointBackgroundColor: 'rgba(0,0,0,0)', pointBorderColor: INK, pointBorderWidth: 3.5, order: 2 },
        { data: curve.d.map((d, i) => ({ x: d, y: curve.ab[i] })), showLine: true, borderColor: INK,
          borderWidth: 3.5, pointRadius: 0, cubicInterpolationMode: 'monotone', order: 1 }
      ]
    },
    options: {
      responsive: false,
      devicePixelRatio: 1,
      layout: { padding: { top: padT, right: padR, left: 0, bottom: 0 } },
      scales: {
        x: {
          type: 'linear', min: 0, max: 60,
          afterFit: fitX(xH),
          afterBuildTicks: fixedTicks(patchTicks),
          ticks: { callback: (v, i) => patchTickText[i], font: { family: WIDE, size: 45 }, color: INK,
                   padding: 31, maxRotation: 0, autoSkip: false },
          grid: inwardGrid(12, 3),
          border: { display: false },
          title: { display: true, text: 'Vs patch size, D (km)', font: { family: WIDE, size: 47 }, color: INK,
                   padding: { top: 0, bottom: 16 } }
        },
        y: {
          type: 'linear', min: -0.001, max: 0.011,
          afterFit: fitY(yW),
          afterBuildTicks: fixedTicks(abTicks),
          ticks: { callback: (v, i) => abTickText[i], font: { family: WIDE, size: 45 }, color: INK,
                   padding: style.yTickPad, autoSkip: false },
          grid: inwardGrid(12, 3),
          border: { display: false },
          title: { display: true, text: '(a\u2212b) of Vspatch', font: { family: NARROW, size: 53 }, color: INK,
                   padding: { top: style.yTitlePad, bottom: 0 } }
        }
      },
      plugins: { frame: { width: 3.5 } }
    },
    plugins: [labelPlugin]
  });
}

// ---------- slip panel ----------
function slipPanel(frame, curves, color, tag, bottomRow, yTitlePad) {
  const yW = 200, padT = 40, padR = 70, xH = bottomRow ? 150 : 30;
  const cv = makeCanvas(frame.left - yW, frame.top - padT,
    yW + frame.right - frame.left + padR, padT + frame.bottom - frame.top + xH);

  const tagPlugin = {
    id: 'tag',
    afterDraw(chart) {
      const { ctx, chartArea: a } = chart;
      ctx.save();
      ctx.font = `48px ${SANS}`;
      ctx.fillStyle = INK;
      ctx.textAlign = 'center';
      ctx.textBaseline = 'middle';
      ctx.fillText(tag, a.right - 61, a.top + 61);
      ctx.restore();
    }
  };

  new Chart(cv, {
    type: 'scatter',
    data: {
      datasets: curves.map(c => ({ data: pairs(c), showLine: true, borderColor: color, borderWidth: 4.5,
        pointRadius: 0, cubicInterpolationMode: 'monotone' }))
    },
    options: {
      responsive: false,
      devicePixelRatio: 1,
      layout: { padding: { top: padT, right: padR, left: 0, bottom: 0 } },
      scales: {
        x: {
          type: 'linear', min: 0, max: 240,
          afterFit: fitX(xH),
          afterBuildTicks: fixedTicks(strikeTicks),
          ticks: { display: bottomRow, callback: (v, i) => strikeTickText[i], font: { family: SANS, size: 52 },
                   color: INK, padding: 26, labelOffset: 16, maxRotation: 0, autoSkip: false },
          grid: inwardGrid(14, 4),
          border: { display: false },
          title: { display: bottomRow, text: 'Distance along strike (km)', font: { family: SANS, size: 53 },
                   color: INK, padding: { top: 0, bottom: 3 } }
        },
        y: {
          type: 'linear', min: 0, max: 15,
          afterFit: fitY(yW),
          afterBuildTicks: fixedTicks(slipTicks),
          ticks: { callback: (v, i) => slipTickText[i], font: { family: SANS, size: 52 }, color: INK,
                   padding: 26, autoSkip: false },
          grid: inwardGrid(14, 4),
          border: { display: false },
          title: { display: true, text: 'Slip (m)', font: { family: NARROW, size: 49 }, color: INK,
                   padding: { top: yTitlePad, bottom: 0 } }
        },
        yR: {
          type: 'linear', axis: 'y', position: 'right', min: 0, max: 15,
          afterFit: fitY(0),
          afterBuildTicks: fixedTicks(slipRightTicks),
          ticks: { display: false },
          grid: inwardGrid(14, 4),
          border: { display: false }
        }
      },
      plugins: { frame: { width: 4 } }
    },
    plugins: [tagPlugin]
  });
}

// ---------- colour bar ----------
function colourBar(frame) {
  const wL = 110, wR = 140, pad = 30;
  const cv = makeCanvas(frame.left - wL, frame.top - pad, wL + frame.right - frame.left + wR,
    frame.bottom - frame.top + 2 * pad);
  const nSeg = 64;
  const segs = [];
  for (let k = 0; k < nSeg; k++) {
    segs.push({ data: [100 / nSeg], backgroundColor: jet((k + 0.5) * 100 / nSeg), borderWidth: 0,
      barPercentage: 1, categoryPercentage: 1 });
  }
  const barTitle = {
    id: 'barTitle',
    afterDraw(chart) {
      const { ctx, chartArea: a } = chart;
      ctx.save();
      ctx.translate(a.left - 53, (a.top + a.bottom) / 2 - 42);
      ctx.rotate(-Math.PI / 2);
      ctx.font = `53px ${SANS}`;
      ctx.fillStyle = INK;
      ctx.textAlign = 'center';
      ctx.textBaseline = 'middle';
      ctx.fillText('(%) of EQ going through VS patch', 0, 0);
      ctx.restore();
    }
  };
  new Chart(cv, {
    type: 'bar',
    data: { labels: [''], datasets: segs },
    options: {
      responsive: false,
      devicePixelRatio: 1,
      layout: { padding: { top: pad, bottom: pad, left: 0, right: 0 } },
      scales: {
        x: { stacked: true, display: false },
        y: {
          stacked: true, position: 'right', min: 0, max: 100,
          afterFit: fitY(wR),
          afterBuildTicks: fixedTicks(cbTicks),
          ticks: { callback: (v, i) => cbTickText[i], font: { family: WIDE, size: 44 }, color: INK,
                   padding: 28, labelOffset: 10, autoSkip: false },
          grid: inwardGrid(10, 2),
          border: { display: false }
        },
        yL: {
          type: 'linear', axis: 'y', position: 'left', min: 0, max: 100,
          afterFit: fitY(wL),
          afterBuildTicks: fixedTicks(cbTicks.slice(1, -1)),
          ticks: { display: false },
          grid: inwardGrid(10, 2),
          border: { display: false }
        }
      },
      plugins: { frame: { width: 3 } }
    },
    plugins: [barTitle]
  });
}

// ---------- layout ----------
scatterPanel({ left: 321, right: 1226, top: 162, bottom: 1055 }, fdPatchD, fdAB, fdPct,
  { d: fdExtraD, ab: fdExtraAB, pct: fdExtraPct }, { d: fdCurveD, ab: fdCurveAB },
  { name: fdPickName, d: fdPickD, ab: fdPickAB },
  { yTickPad: 25, yTitlePad: 36, labelShift: [[41, -42], [-44, -46], [54, -42]] });

scatterPanel({ left: 1785, right: 2680, top: 162, bottom: 1055 }, qdPatchD, qdAB, qdPct,
  { d: [], ab: [], pct: [] }, { d: qdCurveD, ab: qdCurveAB },
  { name: qdPickName, d: qdPickD, ab: qdPickAB },
  { yTickPad: 32, yTitlePad: 29, labelShift: [[54, -42], [-4, -52], [-68, 0]] });

const leftCol = { left: 412, right: 1066 };
const rightCol = { left: 1866, right: 2522 };
const rowsY = [{ top: 1322, bottom: 1729 }, { top: 1825, bottom: 2232 }, { top: 2329, bottom: 2736 }];

slipPanel({ ...leftCol, ...rowsY[0] }, f1Slip, '#2f2c80', 'F1', false, 22);
slipPanel({ ...leftCol, ...rowsY[1] }, f2Slip, '#79c892', 'F2', false, 22);
slipPanel({ ...leftCol, ...rowsY[2] }, f3Slip, '#f5912d', 'F3', true, 22);
slipPanel({ ...rightCol, ...rowsY[0] }, q1Slip, '#312e82', 'Q1', false, 24);
slipPanel({ ...rightCol, ...rowsY[1] }, q2Slip, '#6bc7ab', 'Q2', false, 24);
slipPanel({ ...rightCol, ...rowsY[2] }, q3Slip, '#ef4b2d', 'Q3', true, 24);

colourBar({ left: 1363, right: 1419, top: 1705, bottom: 2519 });
</script>
</body>
</html>
